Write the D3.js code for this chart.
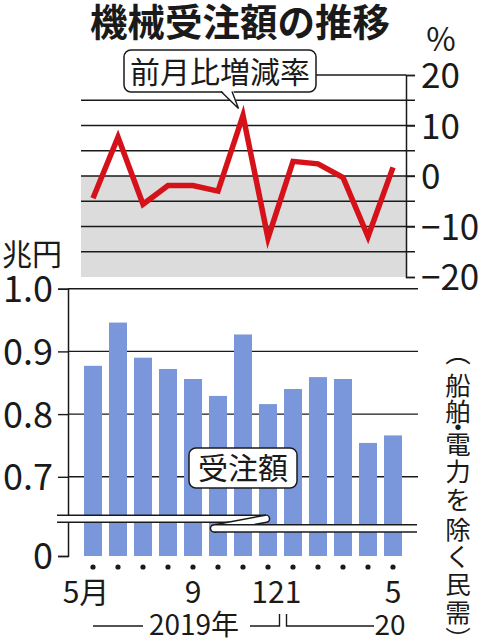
<!DOCTYPE html>
<html><head><meta charset="utf-8">
<script src="https://cdn.jsdelivr.net/npm/d3@7"></script>
<style>
html,body{margin:0;padding:0;background:#fff;}
svg{display:block;font-family:"Noto Sans CJK JP","Noto Sans",sans-serif;}
</style></head><body>
<svg id="c" width="485" height="640"></svg>
<script>
// ---- data ----
const months = ["2019-05","2019-06","2019-07","2019-08","2019-09","2019-10","2019-11","2019-12","2020-01","2020-02","2020-03","2020-04","2020-05"];
const monthLabels = ["5月","","","","9","","","12","1","","","","5"];
const orders = [0.877,0.946,0.890,0.872,0.856,0.829,0.927,0.816,0.840,0.859,0.856,0.754,0.766]; // 兆円
const changes = [-4.4,7.7,-5.6,-1.9,-1.9,-3.0,12.0,-12.3,2.9,2.4,-0.3,-12.0,1.7]; // 前月比 %
const pctTicks = [20,10,0,-10,-20];
const pctGrid = [15,10,5,0,-5,-10,-15];
const yenTicks = [0,0.7,0.8,0.9,1.0];
const yenGrid = [0.7,0.8,0.9,1.0];
const title = "機械受注額の推移";
const lineLabel = "前月比増減率";
const barLabel = "受注額";
const yenUnit = "兆円";
const pctUnit = "%";
const noteChars = ["︵","船","舶","・","電","力","を","除","く","民","需","︶"];

const INK = "#1a1a1a";
const svg = d3.select("#c");

// title
svg.append("text").attr("x",240).attr("y",36).attr("text-anchor","middle")
  .attr("font-size",37.5).attr("font-weight",700).attr("fill",INK).text(title);
svg.append("text").attr("x",441).attr("y",51).attr("text-anchor","middle")
  .attr("font-size",32).attr("fill",INK).text(pctUnit);

// shared x
const x = d3.scaleBand().domain(months).range([80.5,405.5]).paddingInner(0.28).paddingOuter(0.14);
const cx = m => x(m) + x.bandwidth()/2;

// ---------- top panel ----------
const yP = d3.scaleLinear().domain([-20,20]).range([277,75]);
const axP = 406;
svg.append("rect").attr("x",81).attr("y",yP(0)).attr("width",axP-81)
  .attr("height",yP(-20)-yP(0)).attr("fill","#dcdcdc");
svg.append("g").selectAll("line").data(pctGrid).join("line")
  .attr("x1",81).attr("x2",415).attr("y1",d=>yP(d)).attr("y2",d=>yP(d))
  .attr("stroke",INK).attr("stroke-width",1.4);
svg.append("line").attr("x1",316).attr("x2",axP).attr("y1",yP(20)).attr("y2",yP(20))
  .attr("stroke",INK).attr("stroke-width",1.4);
const gP = svg.append("g").attr("transform",`translate(${axP},0)`)
  .call(d3.axisRight(yP).tickValues(pctTicks).tickSize(9).tickSizeOuter(9).tickPadding(6));
gP.attr("font-family",null).attr("font-size",35);
gP.select(".domain").attr("stroke",INK).attr("stroke-width",1.5);
gP.selectAll(".tick line").attr("stroke",INK).attr("stroke-width",1.4);
gP.selectAll(".tick text").attr("fill",INK).attr("dy","0.36em");

svg.append("path").datum(changes)
  .attr("d", d3.line().x((d,i)=>cx(months[i])).y(d=>yP(d)))
  .attr("fill","none").attr("stroke","#d5121a").attr("stroke-width",5.5)
  .attr("stroke-linejoin","miter").attr("stroke-miterlimit",6);

// callout (line)
svg.append("rect").attr("x",124).attr("y",50).attr("width",192).attr("height",42).attr("rx",7)
  .attr("fill","#fff").attr("stroke",INK).attr("stroke-width",1.5);
svg.append("path").attr("d","M221,90 L238.5,108.5 L233,90 Z").attr("fill","#fff");
svg.append("path").attr("d","M221,91.5 L238.5,108.5 L232,91.5").attr("fill","none")
  .attr("stroke",INK).attr("stroke-width",1.4);
svg.append("text").attr("x",220).attr("y",83).attr("text-anchor","middle")
  .attr("font-size",30).attr("fill",INK).text(lineLabel);

// ---------- bottom panel ----------
const yB = d3.scaleLinear().domain([0,0.6,1.0]).range([556,539.5,288.7]);
svg.append("text").attr("x",2).attr("y",265).attr("font-size",30).attr("fill",INK).text(yenUnit);
svg.append("g").selectAll("line").data(yenGrid).join("line")
  .attr("x1",68).attr("x2",418).attr("y1",d=>yB(d)).attr("y2",d=>yB(d))
  .attr("stroke",INK).attr("stroke-width",1.4);
svg.append("g").selectAll("rect").data(orders).join("rect")
  .attr("x",(d,i)=>x(months[i])).attr("width",x.bandwidth())
  .attr("y",d=>yB(d)).attr("height",d=>yB(0)-yB(d)).attr("fill","#7b97db");
const gB = svg.append("g").attr("transform","translate(68,0)")
  .call(d3.axisLeft(yB).tickValues(yenTicks).tickSize(10).tickSizeOuter(10).tickPadding(5)
    .tickFormat(d => d===0 ? "0" : d.toFixed(1)));
gB.attr("font-family",null).attr("font-size",36);
gB.select(".domain").attr("stroke",INK).attr("stroke-width",1.5);
gB.selectAll(".tick line").attr("stroke",INK).attr("stroke-width",1.4);
gB.selectAll(".tick text").attr("fill",INK).attr("dy","0.36em");

// break ribbon (Z)
const segs = [
  {d:"M57,518.7 L266,518.7", cap:"butt"},
  {d:"M266,518.7 L214,528.4", cap:"round"},
  {d:"M214,528.4 L417,528.4", cap:"butt"}
];
segs.forEach(s=>{
  svg.append("path").attr("d",s.d).attr("stroke",INK).attr("stroke-width",8.6).attr("stroke-linecap",s.cap).attr("fill","none");
  svg.append("path").attr("d",s.d).attr("stroke","#fff").attr("stroke-width",5.6).attr("stroke-linecap",s.cap).attr("fill","none");
});

// callout (bars)
svg.append("rect").attr("x",189).attr("y",448).attr("width",108).attr("height",40).attr("rx",7)
  .attr("fill","#fff").attr("stroke",INK).attr("stroke-width",1.5);
svg.append("text").attr("x",243).attr("y",479).attr("text-anchor","middle")
  .attr("font-size",30).attr("fill",INK).text(barLabel);

// x axis dots & labels
svg.append("g").selectAll("circle").data(months).join("circle")
  .attr("cx",d=>cx(d)).attr("cy",567).attr("r",2.6).attr("fill",INK);
svg.append("g").selectAll("text").data(months).join("text")
  .attr("x",(d,i)=>cx(d) + (i===0 ? -7 : 0)).attr("y",603).attr("text-anchor","middle")
  .attr("font-size",30).attr("fill",INK).text((d,i)=>monthLabels[i]);

// year row
const yrY = 626, brk = (x("2019-12")+x.bandwidth()+x("2020-01"))/2;
const yr = svg.append("g").attr("stroke",INK).attr("stroke-width",1.4).attr("fill","none");
yr.append("path").attr("d",`M93,${yrY} H143`);
yr.append("path").attr("d",`M250,${yrY} H${brk-1} V${yrY-12}`);
yr.append("path").attr("d",`M${brk+6},${yrY-12} V${yrY} H374`);
svg.append("text").attr("x",194).attr("y",635).attr("text-anchor","middle")
  .attr("font-size",28).attr("fill",INK).text("2019年");
svg.append("text").attr("x",cx("2020-05")-3).attr("y",635).attr("text-anchor","middle")
  .attr("font-size",28).attr("fill",INK).text("20");

// vertical note (stacked characters; layout centres)
const nfs = 25.5;
const noteY = [350, 383.5, 409, 425.5, 442.5, 469, 497, 527, 554, 582, 610, 637];
svg.append("g").selectAll("text").data(noteChars).join("text")
  .attr("x",458).attr("y",(d,i)=>noteY[i]).attr("text-anchor","middle")
  .attr("dominant-baseline","central").attr("font-size",nfs).attr("fill",INK).text(d=>d);
</script>
</body></html>
